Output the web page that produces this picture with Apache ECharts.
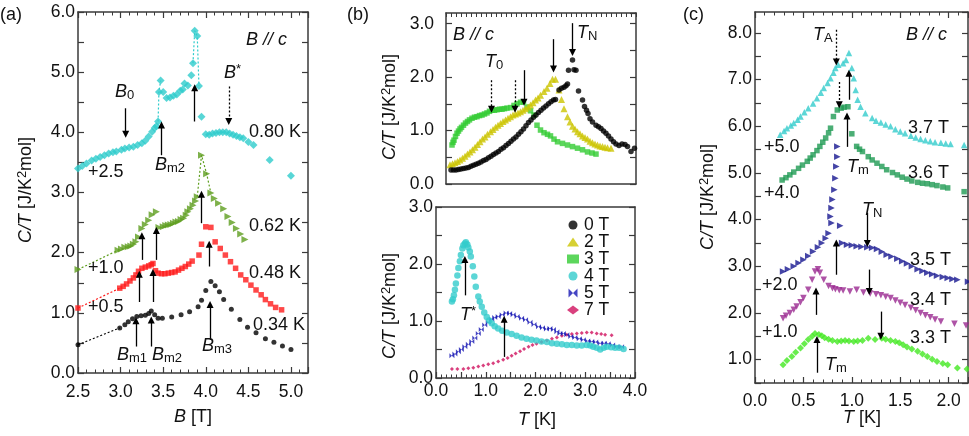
<!DOCTYPE html>
<html>
<head>
<meta charset="utf-8">
<script src="https://cdn.jsdelivr.net/npm/echarts@6/dist/echarts.min.js"></script>
<style>
html, body { margin: 0; padding: 0; background: #fff; }
#chart { width: 969px; height: 436px; }
</style>
</head>
<body>
<div id="chart"></div>
<script>
// ---- panel (a): C/T vs B, offsets already added ----
const a080 = [[2.50,3.40],[2.55,3.44],[2.60,3.48],[2.66,3.53],[2.71,3.56],[2.76,3.59],[2.81,3.62],[2.86,3.65],[2.91,3.67],[2.95,3.68],[3.01,3.71],[3.05,3.73],[3.10,3.75],[3.15,3.76],[3.20,3.79],[3.25,3.82],[3.29,3.86],[3.33,3.93],[3.37,4.01],[3.40,4.07],[3.42,4.10],[3.44,4.18],[3.45,4.67],[3.47,4.86],[3.50,4.67],[3.54,4.57],[3.58,4.58],[3.62,4.61],[3.66,4.63],[3.70,4.69],[3.73,4.71],[3.75,4.81],[3.79,4.78],[3.83,4.95],[3.85,5.15],[3.87,5.69],[3.90,5.60],[3.92,4.77],[3.95,4.26],[4.00,3.97],[4.04,3.96],[4.08,3.98],[4.12,3.99],[4.16,4.00],[4.20,4.00],[4.24,4.00],[4.28,3.98],[4.32,3.96],[4.36,3.94],[4.40,3.92],[4.44,3.90],[4.50,3.84],[4.56,3.79],[4.75,3.54],[5.00,3.28]];
const a062 = [[2.50,1.72],[2.97,2.04],[3.01,2.06],[3.05,2.09],[3.09,2.10],[3.12,2.11],[3.15,2.14],[3.18,2.18],[3.21,2.26],[3.25,2.40],[3.29,2.47],[3.33,2.54],[3.37,2.63],[3.42,2.68],[3.45,2.42],[3.50,2.43],[3.53,2.45],[3.56,2.46],[3.59,2.47],[3.62,2.49],[3.65,2.51],[3.68,2.52],[3.71,2.55],[3.74,2.57],[3.77,2.62],[3.79,2.68],[3.82,2.73],[3.85,2.79],[3.88,2.86],[3.90,2.93],[3.95,3.62],[4.01,3.31],[4.06,2.99],[4.10,2.90],[4.15,2.82],[4.21,2.73],[4.26,2.60],[4.31,2.50],[4.36,2.40],[4.41,2.31],[4.46,2.22]];
const a048 = [[2.50,1.08],[2.99,1.41],[3.03,1.44],[3.07,1.48],[3.11,1.53],[3.15,1.58],[3.18,1.63],[3.21,1.69],[3.25,1.74],[3.29,1.76],[3.33,1.78],[3.36,1.80],[3.38,1.82],[3.41,1.70],[3.44,1.66],[3.48,1.65],[3.52,1.65],[3.56,1.66],[3.60,1.67],[3.64,1.68],[3.68,1.71],[3.72,1.74],[3.76,1.77],[3.80,1.81],[3.84,1.86],[3.92,1.96],[3.95,2.14],[4.00,2.43],[4.06,2.42],[4.11,2.18],[4.17,2.07],[4.23,1.96],[4.29,1.85],[4.35,1.74],[4.41,1.63],[4.47,1.55],[4.53,1.46],[4.59,1.38],[4.65,1.30],[4.70,1.22],[4.76,1.15],[4.82,1.09],[4.89,1.05]];
const a034 = [[2.50,0.47],[2.99,0.75],[3.05,0.80],[3.09,0.85],[3.14,0.90],[3.19,0.94],[3.24,0.95],[3.29,0.96],[3.33,0.99],[3.36,1.03],[3.40,0.97],[3.44,0.91],[3.49,0.91],[3.60,0.93],[3.71,0.97],[3.81,1.02],[3.91,1.10],[3.95,1.21],[4.00,1.37],[4.06,1.52],[4.11,1.45],[4.16,1.35],[4.21,1.22],[4.30,1.06],[4.40,0.89],[4.49,0.76],[4.59,0.67],[4.70,0.57],[4.80,0.51],[4.90,0.45],[5.00,0.39]];
// dotted connecting segments in (a)
const a034Lead = [[2.50,0.47],[2.99,0.75]];
const a048Lead = [[2.50,1.08],[2.99,1.41]];
const a062Lead = [[2.50,1.72],[2.97,2.04]];
const a062Peak = [[3.90,2.93],[3.95,3.62],[4.01,3.31],[4.06,2.99]];
const a080Jump1 = [[3.44,4.18],[3.45,4.67],[3.47,4.86]];
const a080Jump2 = [[3.85,5.15],[3.87,5.69],[3.90,5.60],[3.92,4.77]];

// ---- panel (b) upper: 0, 2, 3 T ----
const b0T = [[0.30,0.26],[0.35,0.26],[0.40,0.26],[0.45,0.27],[0.50,0.28],[0.55,0.29],[0.60,0.30],[0.65,0.31],[0.70,0.33],[0.75,0.35],[0.80,0.37],[0.85,0.39],[0.90,0.41],[0.95,0.44],[1.00,0.46],[1.05,0.49],[1.10,0.52],[1.15,0.55],[1.20,0.58],[1.25,0.61],[1.30,0.65],[1.35,0.68],[1.40,0.72],[1.45,0.76],[1.50,0.80],[1.55,0.84],[1.60,0.88],[1.65,0.93],[1.70,0.98],[1.75,1.03],[1.80,1.09],[1.85,1.15],[1.90,1.20],[1.95,1.25],[2.00,1.29],[2.05,1.34],[2.10,1.38],[2.15,1.42],[2.20,1.46],[2.25,1.50],[2.30,1.54],[2.35,1.57],[2.39,1.58],[2.46,1.76],[2.51,1.79],[2.56,1.81],[2.60,1.84],[2.63,1.87],[2.65,2.13],[2.73,2.32],[2.76,2.14],[2.80,2.13],[2.85,1.74],[2.93,1.57],[2.97,1.45],[3.01,1.38],[3.04,1.32],[3.08,1.22],[3.13,1.16],[3.20,1.10],[3.25,1.07],[3.30,1.04],[3.35,0.99],[3.40,0.95],[3.45,0.90],[3.50,0.84],[3.55,0.79],[3.60,0.75],[3.66,0.72],[3.72,0.75],[3.78,0.74],[3.83,0.70],[3.90,0.61],[3.97,0.67]];
const b2T = [[0.28,0.36],[0.33,0.38],[0.38,0.40],[0.43,0.42],[0.48,0.45],[0.53,0.48],[0.58,0.52],[0.63,0.56],[0.68,0.60],[0.73,0.64],[0.78,0.69],[0.83,0.74],[0.88,0.79],[0.93,0.84],[0.98,0.88],[1.03,0.93],[1.09,0.98],[1.14,1.02],[1.19,1.06],[1.24,1.10],[1.29,1.13],[1.34,1.17],[1.39,1.20],[1.44,1.23],[1.49,1.26],[1.54,1.29],[1.59,1.31],[1.64,1.33],[1.69,1.35],[1.74,1.38],[1.79,1.41],[1.84,1.44],[1.89,1.48],[1.94,1.52],[1.99,1.57],[2.04,1.61],[2.09,1.66],[2.16,1.73],[2.22,1.79],[2.28,1.88],[2.33,1.96],[2.39,1.96],[2.46,1.76],[2.51,1.58],[2.56,1.41],[2.63,1.26],[2.68,1.16],[2.73,1.08],[2.78,1.03],[2.83,0.98],[2.88,0.94],[2.93,0.90],[2.98,0.87],[3.03,0.84],[3.08,0.80],[3.13,0.77],[3.18,0.75],[3.23,0.73],[3.28,0.71],[3.33,0.70],[3.38,0.69],[3.43,0.68],[3.50,0.67]];
const b3T = [[0.32,0.73],[0.34,0.78],[0.36,0.82],[0.39,0.89],[0.42,0.95],[0.45,0.99],[0.48,1.03],[0.51,1.06],[0.55,1.10],[0.59,1.14],[0.63,1.17],[0.67,1.20],[0.72,1.23],[0.77,1.25],[0.82,1.26],[0.87,1.28],[0.92,1.29],[0.97,1.31],[1.02,1.33],[1.07,1.36],[1.12,1.38],[1.17,1.38],[1.22,1.39],[1.27,1.40],[1.32,1.40],[1.37,1.41],[1.42,1.42],[1.49,1.43],[1.56,1.47],[1.62,1.50],[1.69,1.53],[1.75,1.54],[1.82,1.44],[1.89,1.37],[1.96,1.29],[2.02,1.10],[2.09,1.01],[2.16,0.96],[2.23,0.93],[2.29,0.90],[2.36,0.84],[2.43,0.79],[2.53,0.76],[2.63,0.73],[2.73,0.70],[2.83,0.67],[2.93,0.64],[3.03,0.60],[3.12,0.58],[3.20,0.56]];

// ---- panel (b) lower: 4, 5, 7 T ----
const b4T = [[0.32,1.34],[0.34,1.38],[0.36,1.45],[0.38,1.55],[0.40,1.66],[0.43,1.80],[0.45,1.93],[0.48,2.05],[0.50,2.16],[0.53,2.27],[0.55,2.33],[0.58,2.36],[0.60,2.38],[0.63,2.34],[0.65,2.29],[0.68,2.22],[0.70,2.13],[0.74,1.96],[0.77,1.78],[0.80,1.60],[0.85,1.43],[0.88,1.34],[0.92,1.25],[0.97,1.15],[1.02,1.07],[1.07,1.01],[1.12,0.96],[1.18,0.91],[1.25,0.87],[1.33,0.83],[1.42,0.80],[1.52,0.77],[1.62,0.74],[1.72,0.71],[1.82,0.69],[1.92,0.67],[2.02,0.66],[2.12,0.64],[2.23,0.63],[2.33,0.61],[2.43,0.60],[2.53,0.59],[2.63,0.58],[2.73,0.58],[2.83,0.57],[2.93,0.57],[3.03,0.58],[3.10,0.57],[3.16,0.55],[3.23,0.53],[3.30,0.50],[3.37,0.53],[3.43,0.55],[3.52,0.54],[3.60,0.53],[3.68,0.53],[3.77,0.51]];
const b5T = [[0.32,0.39],[0.38,0.42],[0.45,0.46],[0.51,0.50],[0.58,0.55],[0.65,0.59],[0.72,0.64],[0.78,0.70],[0.85,0.78],[0.91,0.85],[0.98,0.93],[1.05,0.98],[1.12,1.03],[1.18,1.06],[1.25,1.08],[1.33,1.11],[1.41,1.14],[1.48,1.13],[1.55,1.11],[1.63,1.08],[1.72,1.05],[1.80,1.02],[1.89,0.98],[1.97,0.94],[2.06,0.90],[2.14,0.88],[2.22,0.86],[2.29,0.87],[2.36,0.85],[2.43,0.81],[2.49,0.78],[2.56,0.78],[2.63,0.76],[2.71,0.73],[2.79,0.71],[2.88,0.69],[2.96,0.67],[3.05,0.65],[3.13,0.64],[3.21,0.63],[3.30,0.61],[3.38,0.61],[3.46,0.60],[3.55,0.58],[3.63,0.55],[3.73,0.55]];
const b7T = [[0.32,0.16],[0.43,0.16],[0.55,0.16],[0.65,0.17],[0.75,0.18],[0.85,0.20],[0.95,0.22],[1.05,0.24],[1.15,0.26],[1.25,0.29],[1.35,0.32],[1.44,0.35],[1.52,0.39],[1.60,0.43],[1.69,0.47],[1.77,0.51],[1.86,0.55],[1.94,0.58],[2.02,0.60],[2.12,0.63],[2.23,0.66],[2.33,0.69],[2.43,0.71],[2.53,0.74],[2.63,0.76],[2.73,0.77],[2.83,0.78],[2.93,0.79],[3.03,0.80],[3.13,0.80],[3.23,0.78],[3.32,0.77],[3.40,0.76],[3.53,0.75]];

// ---- panel (c): C/T vs T at fixed B, offsets already added ----
const c37 = [[0.26,5.82],[0.30,5.90],[0.33,5.96],[0.37,6.02],[0.40,6.07],[0.44,6.14],[0.47,6.21],[0.51,6.30],[0.55,6.39],[0.60,6.49],[0.64,6.60],[0.68,6.72],[0.71,6.82],[0.75,6.93],[0.78,7.03],[0.81,7.15],[0.83,7.25],[0.86,7.32],[0.91,7.35],[0.94,7.42],[0.97,7.57],[1.00,7.25],[1.02,7.03],[1.04,6.78],[1.06,6.57],[1.09,6.42],[1.14,6.28],[1.21,6.18],[1.25,6.12],[1.30,6.08],[1.35,6.04],[1.40,6.00],[1.45,5.94],[1.50,5.89],[1.55,5.85],[1.61,5.80],[1.66,5.76],[1.71,5.73],[1.76,5.70],[1.81,5.68],[1.86,5.66],[1.92,5.65],[1.97,5.63],[2.02,5.62],[2.16,5.60]];
const c36 = [[0.28,4.85],[0.32,4.90],[0.36,4.96],[0.40,5.02],[0.45,5.10],[0.49,5.17],[0.54,5.25],[0.57,5.32],[0.60,5.39],[0.64,5.48],[0.67,5.57],[0.70,5.66],[0.73,5.75],[0.76,5.86],[0.78,5.96],[0.81,6.21],[0.85,6.35],[0.89,6.39],[0.92,6.41],[0.96,6.42],[1.00,5.84],[1.05,5.57],[1.08,5.51],[1.11,5.46],[1.17,5.35],[1.21,5.28],[1.26,5.21],[1.31,5.14],[1.36,5.07],[1.42,5.01],[1.47,4.96],[1.52,4.91],[1.57,4.87],[1.62,4.83],[1.68,4.80],[1.73,4.78],[1.78,4.77],[1.83,4.75],[1.88,4.73],[1.94,4.70],[1.99,4.68],[2.16,4.60]];
const c35 = [[0.29,2.89],[0.34,2.94],[0.40,3.00],[0.45,3.07],[0.50,3.14],[0.55,3.22],[0.60,3.32],[0.65,3.41],[0.69,3.50],[0.73,3.60],[0.76,3.71],[0.79,3.93],[0.78,4.07],[0.79,4.25],[0.80,4.43],[0.82,4.64],[0.83,4.89],[0.84,5.14],[0.85,5.35],[0.85,5.57],[0.88,3.87],[0.90,3.50],[0.95,3.46],[1.00,3.45],[1.05,3.43],[1.10,3.42],[1.16,3.41],[1.21,3.40],[1.26,3.37],[1.31,3.31],[1.36,3.25],[1.41,3.21],[1.47,3.16],[1.52,3.11],[1.57,3.06],[1.62,3.00],[1.68,2.94],[1.73,2.90],[1.78,2.86],[1.83,2.83],[1.88,2.80],[1.94,2.77],[1.99,2.75],[2.04,2.73],[2.09,2.71],[2.20,2.67]];
const c34 = [[0.29,1.89],[0.32,1.94],[0.36,2.00],[0.40,2.07],[0.43,2.14],[0.47,2.23],[0.50,2.32],[0.55,2.50],[0.59,2.71],[0.62,2.89],[0.65,2.94],[0.67,2.86],[0.71,2.71],[0.76,2.58],[0.80,2.53],[0.83,2.51],[0.87,2.49],[0.91,2.48],[0.98,2.46],[1.05,2.50],[1.12,2.44],[1.19,2.42],[1.25,2.40],[1.30,2.38],[1.35,2.35],[1.40,2.32],[1.45,2.27],[1.50,2.22],[1.55,2.17],[1.61,2.11],[1.66,2.06],[1.71,2.00],[1.76,1.95],[1.81,1.91],[1.86,1.86],[1.92,1.82],[2.06,1.77],[2.18,1.73]];
const c33 = [[0.29,0.89],[0.33,0.98],[0.38,1.07],[0.42,1.16],[0.47,1.25],[0.51,1.34],[0.55,1.43],[0.59,1.50],[0.62,1.56],[0.66,1.54],[0.69,1.51],[0.72,1.47],[0.76,1.44],[0.80,1.41],[0.85,1.39],[0.89,1.40],[0.93,1.41],[0.97,1.40],[1.02,1.39],[1.06,1.40],[1.11,1.41],[1.17,1.46],[1.24,1.43],[1.31,1.46],[1.35,1.44],[1.40,1.41],[1.45,1.39],[1.49,1.36],[1.53,1.32],[1.57,1.27],[1.62,1.23],[1.68,1.18],[1.73,1.12],[1.78,1.07],[1.83,1.01],[1.88,0.96],[1.94,0.92],[1.99,0.89],[2.09,0.82],[2.19,0.80]];

// arrows: [x, yFrom, yTo, dotted]
const arrowsA = [[3.06,4.40,3.97,0],[4.27,4.76,4.18,1],[3.48,3.62,4.12,0],[3.87,4.18,4.74,0],
  [3.25,1.88,2.28,0],[3.42,1.88,2.37,0],[3.95,2.49,2.97,0],
  [3.22,1.18,1.64,0],[3.38,1.18,1.67,0],[4.04,1.77,2.14,0],
  [3.18,0.44,0.87,0],[3.36,0.44,0.88,0],[4.05,0.55,1.14,0]];
const arrowsB1 = [[1.11,1.94,1.40,1],[1.58,1.94,1.40,1],[1.76,2.13,1.53,0],[2.35,2.71,2.15,0],[2.73,3.01,2.46,0]];
const arrowsB2 = [[0.58,1.45,2.08,0],[1.37,0.37,1.03,0]];
const arrowsC = [[0.84,8.07,7.38,1],[0.87,6.95,6.46,1],[0.97,6.57,7.14,0],[0.95,5.56,6.22,0],
  [1.16,4.15,3.49,0],[0.84,2.82,3.50,0],[1.18,2.93,2.46,0],[0.63,1.96,2.47,0],[1.30,2.03,1.50,0],[0.64,0.72,1.43,0]];

const FONT = '"Liberation Sans", Arial, sans-serif';
const FRAME = '#3a3a3a';
const INK = '#111';
const FS = 18;
const fmt1 = v => Math.abs(v - Math.round(v)) < 1e-6 ? v.toFixed(1) : '';
const fmtAll = v => v.toFixed(1);

function axis (gridIndex, position, cfg, label) {
  const o = {
    type: 'value', gridIndex, position,
    axisLine: { show: true, onZero: false, lineStyle: { color: FRAME, width: 1.5 } },
    axisTick: { show: true, inside: true, length: 6, lineStyle: { color: FRAME, width: 1.2 } },
    minorTick: { show: false },
    axisLabel: { show: false },
    splitLine: { show: false },
    minorSplitLine: { show: false }
  };
  Object.assign(o, cfg);
  if (label) {
    o.axisLabel = Object.assign({ show: true, color: INK, fontSize: 17.5, fontFamily: FONT, margin: 3,
      showMinLabel: true, showMaxLabel: false, hideOverlap: false }, label);
  }
  return o;
}
const minor5 = { show: true, splitNumber: 5, length: 3.5, lineStyle: { color: FRAME, width: 1 } };

const xAxis = [
  axis(0, 'bottom', { min: 2.5, max: 5.2, interval: 0.5, minorTick: minor5 }, { formatter: fmtAll, margin: 10 }),
  axis(0, 'top', { min: 2.5, max: 5.2, interval: 0.5, minorTick: minor5 }),
  axis(1, 'bottom', { min: 0.2, max: 4.0, axisTick: { show: false } }),
  axis(1, 'top', { min: 0.2, max: 4.0, interval: 0.1, axisTick: { show: true, inside: true, length: 4, lineStyle: { color: FRAME, width: 1 } } }),
  axis(2, 'bottom', { min: 0, max: 4.0, interval: 0.5, minorTick: minor5 }, { formatter: fmt1, margin: 4, showMaxLabel: true }),
  axis(2, 'top', { min: 0, max: 4.0, axisTick: { show: false } }),
  axis(3, 'bottom', { min: 0, max: 2.2, interval: 0.5, minorTick: minor5 }, { formatter: fmtAll, margin: 9 }),
  axis(3, 'top', { min: 0, max: 2.2, interval: 0.5, minorTick: minor5 })
];
const yAxis = [
  axis(0, 'left', { min: 0, max: 6, interval: 0.5 }, { formatter: fmt1, showMaxLabel: true }),
  axis(0, 'right', { min: 0, max: 6, interval: 0.5 }),
  axis(1, 'left', { min: 0, max: 3.2, interval: 0.5 }, { formatter: fmt1, margin: 12 }),
  axis(1, 'right', { min: 0, max: 3.2, interval: 0.5 }),
  axis(2, 'left', { min: 0, max: 3.0, interval: 0.5 }, { formatter: fmt1, showMaxLabel: true }),
  axis(2, 'right', { min: 0, max: 3.0, interval: 0.5 }),
  axis(3, 'left', { min: 0.5, max: 8.45, interval: 0.5 }, { formatter: fmt1 }),
  axis(3, 'right', { min: 0.5, max: 8.45, interval: 0.5 })
];

function pts (name, data, g, symbol, size, color, rot) {
  return { name, type: 'scatter', xAxisIndex: g * 2, yAxisIndex: g * 2, data, symbol,
    symbolSize: size, symbolRotate: rot || 0, itemStyle: { color }, silent: true, z: 3 };
}
function dots (data, g, color) {
  return { type: 'line', xAxisIndex: g * 2, yAxisIndex: g * 2, data, showSymbol: false, symbol: 'none',
    silent: true, z: 2, lineStyle: { color, width: 1.2, type: [2, 2] } };
}
function arrows (g, list) {
  return { type: 'scatter', xAxisIndex: g * 2, yAxisIndex: g * 2, data: [], silent: true, z: 5,
    markLine: {
      silent: true, animation: false, symbol: ['none', 'triangle'], symbolSize: 7,
      label: { show: false }, emphasis: { disabled: true },
      data: list.map(a => [
        { coord: [a[0], a[1]], lineStyle: { color: '#000', width: 1.3, type: a[3] ? [2, 2] : 'solid' } },
        { coord: [a[0], a[2]] }
      ])
    } };
}

const bowtie = 'path://M0,0 L10,10 L10,0 L0,10 Z';
const series = [
  pts('a080', a080, 0, 'diamond', 8, '#2ECCCC'),
  pts('a062', a062, 0, 'triangle', 7, '#5E9E1E', -90),
  pts('a048', a048, 0, 'rect', 5.5, '#FF1A1A'),
  pts('a034', a034, 0, 'circle', 5, '#000'),
  dots(a034Lead, 0, '#000'), dots(a048Lead, 0, '#FF1A1A'), dots(a062Lead, 0, '#5E9E1E'),
  dots(a062Peak, 0, '#5E9E1E'), dots(a080Jump1, 0, '#2ECCCC'), dots(a080Jump2, 0, '#2ECCCC'),
  pts('3 T', b3T, 1, 'rect', 5.5, '#33CC33'),
  pts('2 T', b2T, 1, 'triangle', 7, '#CCC400'),
  pts('0 T', b0T, 1, 'circle', 5.5, '#000'),
  pts('7 T', b7T, 2, 'diamond', 4, '#D0105E'),
  pts('5 T', b5T, 2, bowtie, 5, '#1616B4'),
  pts('4 T', b4T, 2, 'circle', 6.5, '#33CCCC'),
  pts('c37', c37, 3, 'triangle', 6.5, '#33CCCC'),
  pts('c36', c36, 3, 'rect', 5.5, '#1E9A52'),
  pts('c35', c35, 3, 'triangle', 6.5, '#161690', -90),
  pts('c34', c34, 3, 'triangle', 6.5, '#9A2890', 180),
  pts('c33', c33, 3, 'diamond', 7, '#44E822'),
  arrows(0, arrowsA), arrows(1, arrowsB1), arrows(2, arrowsB2), arrows(3, arrowsC)
];

const RICH = {
  n: { fontSize: FS, fontFamily: FONT, lineHeight: 20, fill: INK },
  i: { fontSize: FS, fontFamily: FONT, fontStyle: 'italic', lineHeight: 20, fill: INK },
  s: { fontSize: 13, fontFamily: FONT, lineHeight: 6, verticalAlign: 'bottom', fill: INK },
  p: { fontSize: 13, fontFamily: FONT, lineHeight: 6, verticalAlign: 'top', fill: INK }
};
function txt (x, y, text, align, rotation) {
  return { type: 'text', x, y, rotation: rotation || 0, silent: true, z: 10,
    style: { text, rich: RICH, align: align || 'left', verticalAlign: 'middle', fill: INK, font: FS + 'px ' + FONT } };
}
const YT = '{i|C/T} {n|[J/K}{p|2}{n|mol]}';
const R90 = Math.PI / 2;
const graphic = [
  txt(0, 15, '{n|(a)}'), txt(347, 15, '{n|(b)}'), txt(683, 15, '{n|(c)}'),
  txt(26, 190, YT, 'center', R90), txt(390, 107, YT, 'center', R90),
  txt(390, 306, YT, 'center', R90), txt(708, 197, YT, 'center', R90),
  txt(193, 417, '{i|B} {n|[T]}', 'center'), txt(537, 420, '{i|T} {n|[K]}', 'center'),
  txt(862, 418, '{i|T} {n|[K]}', 'center'),
  // (a)
  txt(246, 40, '{i|B // c}'), txt(115, 92, '{i|B}{s|0}'), txt(224, 73, '{i|B}{p|*}'),
  txt(249, 132, '{n|0.80 K}'), txt(88, 172, '{n|+2.5}'), txt(155, 165, '{i|B}{s|m2}'),
  txt(249, 226, '{n|0.62 K}'), txt(88, 268, '{n|+1.0}'), txt(249, 273, '{n|0.48 K}'),
  txt(88, 307, '{n|+0.5}'), txt(253, 325, '{n|0.34 K}'),
  txt(117, 355, '{i|B}{s|m1}'), txt(152, 355, '{i|B}{s|m2}'), txt(202, 346, '{i|B}{s|m3}'),
  // (b)
  txt(453, 35, '{i|B // c}'), txt(485, 62, '{i|T}{s|0}'), txt(577, 33, '{i|T}{s|N}'),
  txt(460, 315, '{i|T}{p|*}'),
  // (c)
  txt(906, 35, '{i|B // c}'), txt(813, 35, '{i|T}{s|A}'), txt(847, 167, '{i|T}{s|m}'),
  txt(862, 210, '{i|T}{s|N}'), txt(825, 365, '{i|T}{s|m}'),
  txt(908, 128, '{n|3.7 T}'), txt(908, 173, '{n|3.6 T}'), txt(910, 260, '{n|3.5 T}'),
  txt(910, 300, '{n|3.4 T}'), txt(910, 338, '{n|3.3 T}'),
  txt(764, 147, '{n|+5.0}'), txt(764, 193, '{n|+4.0}'), txt(762, 285, '{n|+2.0}'), txt(762, 332, '{n|+1.0}')
];

const chart = echarts.init(document.getElementById('chart'), null, { renderer: 'canvas' });
chart.setOption({
  animation: false,
  backgroundColor: '#fff',
  grid: [
    { left: 78, top: 12, width: 230, height: 361, outerBoundsMode: 'none' },
    { left: 446, top: 13, width: 190, height: 171, outerBoundsMode: 'none' },
    { left: 436, top: 207, width: 199, height: 171, outerBoundsMode: 'none' },
    { left: 755, top: 12, width: 213, height: 371, outerBoundsMode: 'none' }
  ],
  legend: {
    left: 562, top: 211, orient: 'vertical', itemWidth: 12, itemHeight: 9, itemGap: -1,
    selectedMode: false,
    textStyle: { fontSize: 17.5, fontFamily: FONT, color: INK, lineHeight: 15.8 },
    data: [
      { name: '0 T', icon: 'circle' }, { name: '2 T', icon: 'triangle' }, { name: '3 T', icon: 'rect' },
      { name: '4 T', icon: 'circle' }, { name: '5 T', icon: bowtie }, { name: '7 T', icon: 'diamond' }
    ]
  },
  xAxis,
  yAxis,
  series,
  graphic
});
</script>
</body>
</html>
